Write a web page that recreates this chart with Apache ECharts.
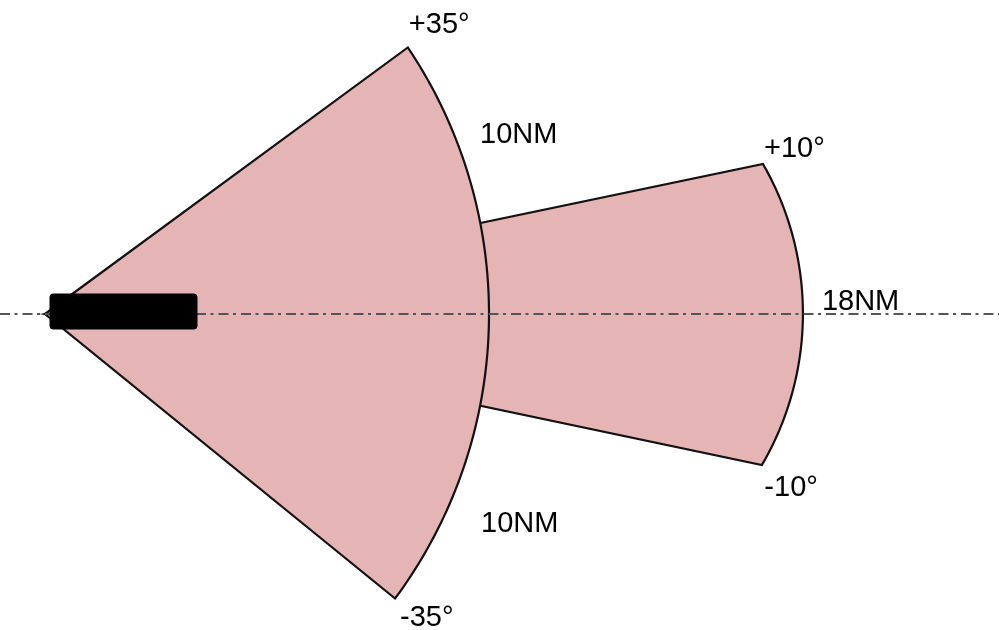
<!DOCTYPE html>
<html>
<head>
<meta charset="utf-8">
<script src="https://cdn.jsdelivr.net/npm/echarts/dist/echarts.min.js"></script>
<style>
html,body{margin:0;padding:0;background:#ffffff;}
#chart{width:999px;height:630px;}
</style>
</head>
<body>
<div id="chart"></div>
<script>
// ---- data (ranges in NM, angles in degrees, as drawn in the figure) ----
const rangeLabels      = ['10NM', '18NM'];
const upperAngleLabels = ['+35°', '+10°'];
const lowerAngleLabels = ['-35°', '-10°'];
const upperEdgeAngle   = [36.3, 11.8];
const lowerEdgeAngle   = [-39.1, -11.9];
const upperEdgeRange   = [10.14, 16.52];
const lowerEdgeRange   = [10.16, 16.50];
const tipRange         = [10.0, 17.07];
const drawOrder        = [1, 0];   // far sector first, near sector on top
const radarOrigin      = [0, 0];

// ---- layout / style ----
const PX_PER_NM = 44.4;
const APEX_PX = [45, 314];
const W = 999, H = 630;
const FONT = '29px "Liberation Sans", Arial, sans-serif';
const upperLabelOffset = [[1, -22.7], [1, -15]];
const lowerLabelOffset = [[5, 19], [2.5, 22.5]];
const rangeLabelOffsets = [[[-9, -179.5], [-8, 209.5]], [[19, -12]]];
const SHIP_BOX = { dx: 5, dy: -20, w: 147, h: 35, r: 3 };
const LINE_STYLE = { stroke: '#555', lineWidth: 2, lineDash: [10, 4.5, 3, 5] };

function circle3(A, B, C) {
  const ax = A[0], ay = A[1], bx = B[0], by = B[1], cx = C[0], cy = C[1];
  const d = 2 * (ax * (by - cy) + bx * (cy - ay) + cx * (ay - by));
  const a2 = ax * ax + ay * ay, b2 = bx * bx + by * by, c2 = cx * cx + cy * cy;
  const ux = (a2 * (by - cy) + b2 * (cy - ay) + c2 * (ay - by)) / d;
  const uy = (a2 * (cx - bx) + b2 * (ax - cx) + c2 * (bx - ax)) / d;
  return [ux, uy, Math.hypot(ax - ux, ay - uy)];
}
function polar(r, deg) {
  const t = deg * Math.PI / 180;
  return [r * Math.cos(t), r * Math.sin(t)];
}
function textEl(str, p, off, align) {
  return {
    type: 'text',
    x: p[0] + off[0], y: p[1] + off[1],
    style: { text: str, fill: '#000', font: FONT, align: align || 'left', verticalAlign: 'middle' }
  };
}

function renderSector(params, api) {
  const i = api.value(2);
  const A = polar(upperEdgeRange[i], upperEdgeAngle[i]);
  const B = [tipRange[i], 0];
  const C = polar(lowerEdgeRange[i], lowerEdgeAngle[i]);
  const c = circle3(A, B, C);
  const a0 = Math.atan2(A[1] - c[1], A[0] - c[0]);
  const a1 = Math.atan2(C[1] - c[1], C[0] - c[0]);
  const pts = [api.coord(radarOrigin)];
  const N = 80;
  for (let s = 0; s <= N; s++) {
    const a = a0 + (a1 - a0) * s / N;
    pts.push(api.coord([c[0] + c[2] * Math.cos(a), c[1] + c[2] * Math.sin(a)]));
  }
  const pA = api.coord(A), pB = api.coord(B), pC = api.coord(C);
  const children = [{
    type: 'polygon',
    shape: { points: pts },
    style: { fill: '#e5b5b5', stroke: '#111', lineWidth: 2.2, lineJoin: 'miter' }
  }];
  children.push(textEl(upperAngleLabels[i], pA, upperLabelOffset[i]));
  children.push(textEl(lowerAngleLabels[i], pC, lowerLabelOffset[i]));
  rangeLabelOffsets[i].forEach(function (off) {
    children.push(textEl(rangeLabels[i], pB, off));
  });
  return { type: 'group', children: children };
}

// centerline through the radar origin (hidden behind the ship), then the ship symbol
function renderOwnShip(params, api) {
  const p = api.coord([api.value(0), api.value(1)]);
  const cs = params.coordSys;
  const shipL = p[0] + SHIP_BOX.dx, shipR = shipL + SHIP_BOX.w;
  return {
    type: 'group',
    children: [
      { type: 'line', shape: { x1: cs.x, y1: p[1], x2: shipL + 1, y2: p[1] }, style: LINE_STYLE },
      { type: 'line', shape: { x1: shipR - 1, y1: p[1], x2: cs.x + cs.width, y2: p[1] }, style: LINE_STYLE },
      {
        type: 'rect',
        shape: { x: shipL, y: p[1] + SHIP_BOX.dy, width: SHIP_BOX.w, height: SHIP_BOX.h, r: SHIP_BOX.r },
        style: { fill: '#000', stroke: '#000', lineWidth: 1 }
      }
    ]
  };
}

const chart = echarts.init(document.getElementById('chart'), null, { renderer: 'canvas' });
chart.setOption({
  animation: false,
  backgroundColor: '#ffffff',
  grid: { left: 0, right: 0, top: 0, bottom: 0, containLabel: false },
  xAxis: {
    type: 'value',
    min: -APEX_PX[0] / PX_PER_NM,
    max: (W - APEX_PX[0]) / PX_PER_NM,
    axisLine: { show: false },
    axisTick: { show: false },
    axisLabel: { show: false },
    splitLine: { show: false }
  },
  yAxis: {
    type: 'value',
    min: -(H - APEX_PX[1]) / PX_PER_NM,
    max: APEX_PX[1] / PX_PER_NM,
    axisLine: { show: false },
    axisTick: { show: false },
    axisLabel: { show: false },
    splitLine: { show: false }
  },
  series: [
    {
      type: 'custom',
      z: 2,
      silent: true,
      clip: false,
      dimensions: ['x', 'y', 'sector'],
      encode: { x: 0, y: 1 },
      data: drawOrder.map(function (i) { return [radarOrigin[0], radarOrigin[1], i]; }),
      renderItem: renderSector
    },
    {
      type: 'custom',
      z: 5,
      silent: true,
      clip: false,
      data: [radarOrigin],
      renderItem: renderOwnShip
    }
  ]
});
</script>
</body>
</html>
